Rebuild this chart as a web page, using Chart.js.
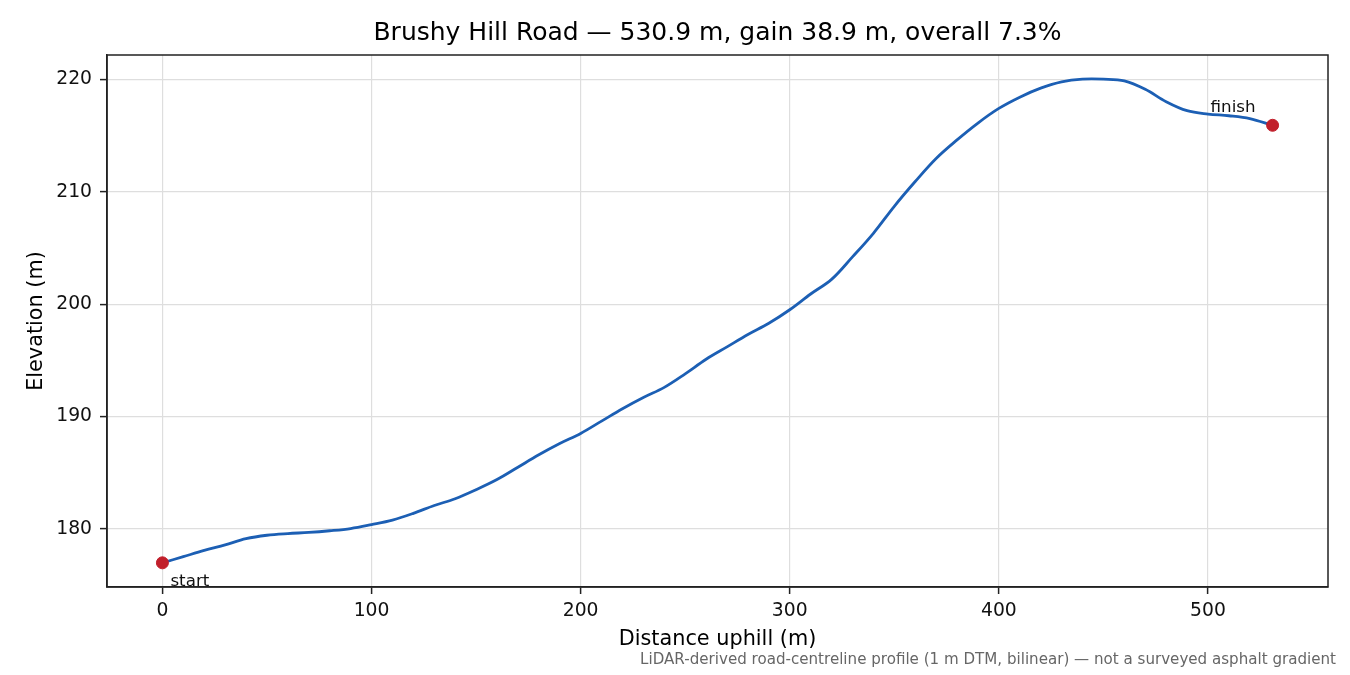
<!DOCTYPE html>
<html>
<head>
<meta charset="utf-8">
<script src="https://cdn.jsdelivr.net/npm/chart.js@4.4.1/dist/chart.umd.min.js"></script>
<style>
  html, body { margin: 0; padding: 0; background: #ffffff; }
  #wrap { width: 1350px; height: 675px; position: relative; }
</style>
</head>
<body>
<div id="wrap"><canvas id="c" width="1350" height="675"></canvas></div>
<script>
// ---- data ----
const distance = [0, 10, 20, 30, 40, 50, 60, 70, 80, 90,
  100, 110, 120, 130, 140, 150, 160, 170, 180, 190,
  200, 210, 220, 230, 240, 250, 260, 270, 280, 290,
  300, 310, 320, 330, 340, 350, 360, 370, 380, 390,
  400, 410, 420, 430, 440, 450, 460, 470, 480, 490,
  500, 510, 520, 530.9];
const elevation = [177.0, 177.55, 178.1, 178.6, 179.15, 179.45, 179.6, 179.7, 179.85, 180.05,
  180.4, 180.8, 181.4, 182.1, 182.7, 183.5, 184.4, 185.5, 186.6, 187.6,
  188.5, 189.6, 190.7, 191.7, 192.6, 193.8, 195.1, 196.2, 197.3, 198.3,
  199.5, 200.9, 202.2, 204.2, 206.3, 208.7, 210.9, 212.95, 214.6, 216.1,
  217.4, 218.4, 219.2, 219.76, 220.0, 220.0, 219.85, 219.1, 218.0, 217.2,
  216.9, 216.75, 216.5, 215.9];
const markerDistance = [0, 530.9];
const markerElevation = [177.0, 215.9];
const markerLabels = ['start', 'finish'];
const xTicks = [0, 100, 200, 300, 400, 500];
const yTicks = [180, 190, 200, 210, 220];
const xRange = [-26.5, 557.4];
const yRange = [174.85, 222.15];
const titleText = 'Brushy Hill Road — 530.9 m, gain 38.9 m, overall 7.3%';
const xAxisTitle = 'Distance uphill (m)';
const yAxisTitle = 'Elevation (m)';
const footnote = 'LiDAR-derived road-centreline profile (1 m DTM, bilinear) — not a surveyed asphalt gradient';

// ---- build chart ----
const FONT = "'DejaVu Sans', 'Liberation Sans', sans-serif";
const profilePoints = distance.map((d, i) => ({ x: d, y: elevation[i] }));
const markerPoints = markerDistance.map((d, i) => ({ x: d, y: markerElevation[i] }));

const framePlugin = {
  id: 'frame',
  afterDraw(chart) {
    const { ctx, chartArea: a } = chart;
    ctx.save();
    ctx.strokeStyle = '#222222';
    ctx.lineWidth = 1.5;
    ctx.strokeRect(a.left, a.top, a.right - a.left, a.bottom - a.top);
    // title, centred over the plot area
    ctx.fillStyle = '#000000';
    ctx.font = '25px ' + FONT;
    ctx.textAlign = 'center';
    ctx.textBaseline = 'middle';
    ctx.fillText(titleText, (a.left + a.right) / 2, 33);
    // footnote
    ctx.fillStyle = '#666666';
    ctx.font = '15.1px ' + FONT;
    ctx.textAlign = 'right';
    ctx.textBaseline = 'middle';
    ctx.fillText(footnote, 1336, 660);
    ctx.restore();
  }
};

const labelPlugin = {
  id: 'pointLabels',
  afterDatasetsDraw(chart) {
    const { ctx } = chart;
    const meta = chart.getDatasetMeta(0);
    const offsets = [[8, 19], [-62, -18]];
    ctx.save();
    ctx.fillStyle = '#111111';
    ctx.font = '16.7px ' + FONT;
    ctx.textAlign = 'left';
    ctx.textBaseline = 'middle';
    meta.data.forEach((el, i) => {
      ctx.fillText(markerLabels[i], el.x + offsets[i][0], el.y + offsets[i][1]);
    });
    ctx.restore();
  }
};

new Chart(document.getElementById('c'), {
  type: 'scatter',
  data: {
    datasets: [
      {
        label: 'endpoints',
        data: markerPoints,
        backgroundColor: '#c11f2b',
        borderColor: '#c11f2b',
        pointRadius: 6,
        pointHoverRadius: 6,
        showLine: false
      },
      {
        label: 'profile',
        data: profilePoints,
        showLine: true,
        borderColor: '#1c5fb4',
        borderWidth: 2.8,
        pointRadius: 0,
        pointHoverRadius: 0,
        tension: 0.35,
        fill: false
      }
    ]
  },
  options: {
    responsive: false,
    animation: false,
    devicePixelRatio: 1,
    layout: { padding: { top: 55, right: 22, bottom: 0, left: 0 } },
    plugins: {
      legend: { display: false },
      tooltip: { enabled: false },
      title: { display: false }
    },
    scales: {
      x: {
        type: 'linear',
        min: xRange[0],
        max: xRange[1],
        afterFit(scale) { scale.height = 88; },
        afterBuildTicks(scale) { scale.ticks = xTicks.map(v => ({ value: v })); },
        ticks: {
          color: '#111111',
          font: { family: FONT, size: 18.75 },
          padding: 6,
          maxRotation: 0,
          callback: v => String(v)
        },
        grid: {
          color: '#dedede',
          lineWidth: 1.2,
          tickColor: '#222222',
          tickLength: 7,
          tickWidth: 1.5
        },
        border: { color: '#222222', width: 1.5 },
        title: {
          display: true,
          text: xAxisTitle,
          color: '#000000',
          font: { family: FONT, size: 20.8, lineHeight: 1.2 },
          padding: { top: 0, bottom: 22.5 }
        }
      },
      y: {
        type: 'linear',
        min: yRange[0],
        max: yRange[1],
        afterFit(scale) { scale.width = 107; },
        afterBuildTicks(scale) { scale.ticks = yTicks.map(v => ({ value: v })); },
        ticks: {
          color: '#111111',
          font: { family: FONT, size: 18.75 },
          padding: 8,
          callback: v => String(v)
        },
        grid: {
          color: '#dedede',
          lineWidth: 1.2,
          tickColor: '#222222',
          tickLength: 7,
          tickWidth: 1.5
        },
        border: { color: '#222222', width: 1.5 },
        title: {
          display: true,
          text: yAxisTitle,
          color: '#000000',
          font: { family: FONT, size: 20.8, lineHeight: 1.2 },
          padding: { top: 24, bottom: 0 }
        }
      }
    }
  },
  plugins: [framePlugin, labelPlugin]
});
</script>
</body>
</html>
